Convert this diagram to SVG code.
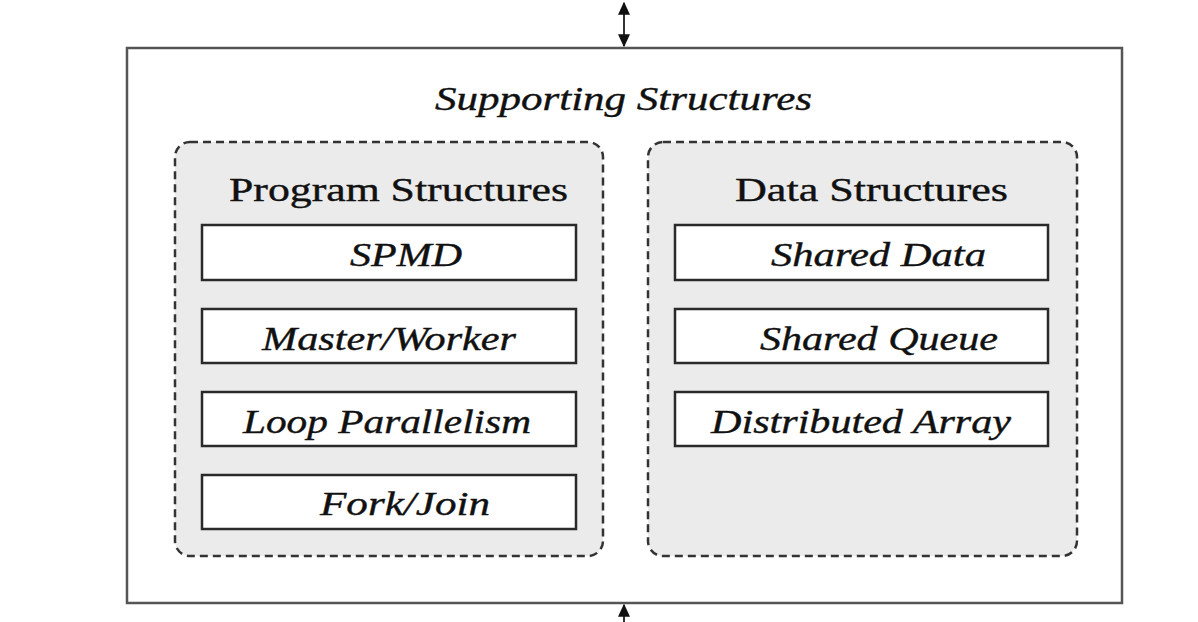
<svg xmlns="http://www.w3.org/2000/svg" width="1198" height="622" viewBox="0 0 1198 622">
<style>
.t{font-family:"Liberation Serif","DejaVu Serif",serif;font-size:34px;fill:#111;stroke:#111;stroke-width:0.4}
.i{font-style:italic}
.grp{fill:#ebebeb;stroke:#333;stroke-width:2.5;stroke-dasharray:8 5}
.box{fill:#fff;stroke:#2a2a2a;stroke-width:2.5}
.edge{stroke:#333;stroke-width:2;fill:none}
</style>
<defs>
<marker id="ah" viewBox="0 0 10 10" refX="9" refY="5" markerWidth="6.5" markerHeight="6" orient="auto-start-reverse" markerUnits="strokeWidth" preserveAspectRatio="none">
<path d="M0,0 L10,5 L0,10 z" fill="#111"/>
</marker>
</defs>
<rect width="1198" height="622" fill="#fff"/>
<g id="outer">
<rect x="127" y="48" width="995" height="555" fill="#fff" stroke="#555" stroke-width="2.5"/>
<text class="t i" x="435" y="110" textLength="377" lengthAdjust="spacingAndGlyphs">Supporting Structures</text>
</g>
<g id="program-structures">
<rect class="grp" x="175" y="142" width="428" height="414" rx="15"/>
<text class="t" x="229" y="201" textLength="339" lengthAdjust="spacingAndGlyphs">Program Structures</text>
</g>
<g id="data-structures">
<rect class="grp" x="648" y="142" width="429" height="414" rx="15"/>
<text class="t" x="735" y="201" textLength="273" lengthAdjust="spacingAndGlyphs">Data Structures</text>
</g>
<g id="spmd"><rect class="box" x="202" y="225" width="374" height="55"/><text class="t i" x="350" y="266" textLength="112" lengthAdjust="spacingAndGlyphs">SPMD</text></g>
<g id="master-worker"><rect class="box" x="202" y="309" width="374" height="54"/><text class="t i" x="262" y="350" textLength="254" lengthAdjust="spacingAndGlyphs">Master/Worker</text></g>
<g id="loop-parallelism"><rect class="box" x="202" y="392" width="374" height="54"/><text class="t i" x="243" y="433" textLength="288" lengthAdjust="spacingAndGlyphs">Loop Parallelism</text></g>
<g id="fork-join"><rect class="box" x="202" y="475" width="374" height="54"/><text class="t i" x="320" y="515" textLength="170" lengthAdjust="spacingAndGlyphs">Fork/Join</text></g>
<g id="shared-data"><rect class="box" x="675" y="225" width="373" height="55"/><text class="t i" x="771" y="266" textLength="215" lengthAdjust="spacingAndGlyphs">Shared Data</text></g>
<g id="shared-queue"><rect class="box" x="675" y="309" width="373" height="54"/><text class="t i" x="760" y="350" textLength="238" lengthAdjust="spacingAndGlyphs">Shared Queue</text></g>
<g id="distributed-array"><rect class="box" x="675" y="392" width="373" height="54"/><text class="t i" x="711" y="433" textLength="300" lengthAdjust="spacingAndGlyphs">Distributed Array</text></g>
<g id="connectors">
<line class="edge" x1="624" y1="3" x2="624" y2="46" marker-start="url(#ah)" marker-end="url(#ah)"/>
<line class="edge" x1="624" y1="622" x2="624" y2="605" marker-end="url(#ah)"/>
</g>
</svg>
